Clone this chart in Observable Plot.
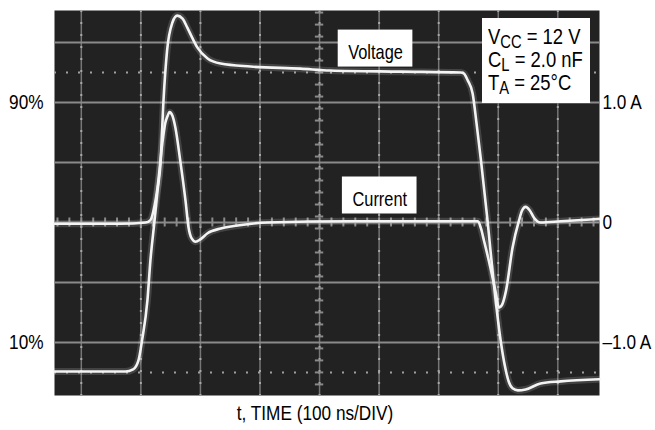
<!DOCTYPE html>
<html><head><meta charset="utf-8">
<script src="https://cdn.jsdelivr.net/npm/d3@7"></script>
<script src="https://cdn.jsdelivr.net/npm/@observablehq/plot@0.6"></script>
<style>body{margin:0;background:#fff}</style>
</head><body><div id="chart"></div>
<script>
// Voltage trace: time (ns) and level (% of swing)
const voltT = [-45, 32, 74, 87, 96, 102, 111, 116, 123, 128, 133, 138, 144, 153, 161, 170, 178, 187, 195, 212, 234, 284, 368, 418, 536, 637, 642, 649, 657, 664, 671, 682, 692, 704, 711, 718, 724, 733, 746, 771, 805, 870];
const voltV = [0.3, 0.3, 0.3, 1.0, 4.0, 10.7, 24, 37.3, 50.7, 60.7, 69.7, 90.7, 107.3, 116.7, 119, 118, 115, 111.3, 108.3, 104.7, 103, 102, 101.3, 100.7, 100.3, 100, 99.7, 97.3, 93, 82.3, 70.7, 50.7, 30.7, 10.7, 2.3, -3.3, -5.3, -6, -5.7, -3.7, -3, -2.3];
// Current trace: time (ns) and current (A)
const curT = [-45, 66, 108, 116, 123, 128, 136, 141, 145, 148, 153, 158, 166, 175, 180, 185, 192, 200, 212, 234, 256, 313, 452, 654, 666, 671, 676, 687, 696, 701, 706, 713, 724, 735, 740, 746, 753, 760, 771, 805, 870];
const curA = [-0.01, -0.01, 0, 0.02, 0.14, 0.29, 0.66, 0.83, 0.89, 0.92, 0.89, 0.79, 0.52, 0.18, -0.04, -0.13, -0.16, -0.14, -0.09, -0.05, -0.03, 0, 0.01, 0.01, 0.01, -0.05, -0.15, -0.38, -0.59, -0.71, -0.69, -0.57, -0.21, 0.02, 0.10, 0.13, 0.10, 0.04, 0, 0.01, 0.03];

// Graticule (100 ns / div, 20 % / div)
const timeGrid = [0, 100, 200, 300, 400, 500, 600, 700, 800];
const levelGrid = [10, 30, 50, 70, 90, 110];
const refLevels = [0, 100];

// Axis tick labels
const leftTicks = [10, 90];
const leftLabels = ["10%", "90%"];
const rightAmps = [-1, 0, 1];
const rightLabels = ["\u20131.0 A", "0", "1.0 A"];

// Trace labels
const traceLabels = [
  {label: "Voltage", t: 494, v: 106.8},
  {label: "Current", t: 501, v: 57.8}
];
const conditions = [
  ["V", "CC", " = 12 V"],
  ["C", "L", " = 2.0 nF"],
  ["T", "A", " = 25\u00B0C"]
];
const xLabel = "t, TIME (100 ns/DIV)";

// current axis shares the vertical graticule: 0 A at centre, 1 A per 2 div
const ampToPct = a => 50 + 40 * a;

const voltage = voltT.map((t, i) => ({t, v: voltV[i]}));
const current = curT.map((t, i) => ({t, v: ampToPct(curA[i])}));
const leftMap = new Map(leftTicks.map((d, i) => [d, leftLabels[i]]));
const rightMap = new Map(rightAmps.map((a, i) => [ampToPct(a), rightLabels[i]]));
const minorLevels = d3.range(-4, 121, 4);
const minorTimes = d3.range(-40, 871, 20);

const FONT = "'Liberation Sans', Arial, sans-serif";
const NARROW = 0.82; // condensed face in the reference
const gridCol = "#8a8a8a";

const chart = Plot.plot({
  width: 655, height: 430,
  marginLeft: 54, marginRight: 56, marginTop: 10, marginBottom: 35,
  style: {fontFamily: FONT, background: "#fff", color: "#000"},
  x: {domain: [-45, 870], axis: null},
  y: {domain: [-7.7, 120.7]},
  marks: [
    Plot.frame({fill: "#222222", stroke: null}),
    Plot.ruleX(timeGrid, {stroke: "#767676", strokeWidth: 1.5}),
    Plot.ruleX(timeGrid, {stroke: "#a8a8a8", strokeWidth: 2, strokeDasharray: "2,10"}),
    Plot.ruleY(levelGrid, {stroke: gridCol, strokeWidth: 2}),
    Plot.ruleY(refLevels, {stroke: "#a0a0a0", strokeWidth: 2, strokeDasharray: "2,10"}),
    Plot.ruleY(minorLevels, {y: d => d, x1: 393, x2: 407, stroke: gridCol, strokeWidth: 2}),
    Plot.ruleX(minorTimes, {x: d => d, y1: 48.5, y2: 51.5, stroke: gridCol, strokeWidth: 2}),
    Plot.line(voltage, {x: "t", y: "v", curve: "monotone-x", stroke: "#fff", strokeWidth: 7, strokeOpacity: 0.15}),
    Plot.line(current, {x: "t", y: "v", curve: "monotone-x", stroke: "#fff", strokeWidth: 7, strokeOpacity: 0.15}),
    Plot.line(voltage, {x: "t", y: "v", curve: "monotone-x", stroke: "#f4f4f4", strokeWidth: 2.6}),
    Plot.line(current, {x: "t", y: "v", curve: "monotone-x", stroke: "#f4f4f4", strokeWidth: 2.6}),
    Plot.text(traceLabels, {x: "t", y: "v", text: "label", fontSize: 20, fill: "#000"}),
    Plot.axisY({anchor: "left", ticks: leftTicks, tickFormat: d => leftMap.get(d), tickSize: 0, tickPadding: 11, fontSize: 21, label: null}),
    Plot.axisY({anchor: "right", ticks: [...rightMap.keys()], tickFormat: d => rightMap.get(d), tickSize: 0, tickPadding: 3, fontSize: 21, label: null, textAnchor: "start"}),
    Plot.text([xLabel], {frameAnchor: "bottom", dx: -12, dy: 24, fontSize: 21, fill: "#000"})
  ]
});
document.getElementById("chart").append(chart);
const svgSel = d3.select(chart);
const xs = chart.scale("x"), ys = chart.scale("y");

// conditions box, top-right of the screen
const frameRight = Math.max(...xs.range), frameTop = Math.min(...ys.range);
const bx = frameRight - 117, by = frameTop + 8;
const cg = svgSel.append("g").attr("font-family", FONT).attr("text-anchor", "start");
cg.append("rect").attr("x", bx).attr("y", by).attr("width", 108).attr("height", 85).attr("fill", "#fff");
conditions.forEach((c, i) => {
  const t = cg.append("text").attr("x", bx + 6).attr("y", by + 26 + i * 23).attr("font-size", 22.5).attr("fill", "#000");
  t.append("tspan").text(c[0]);
  t.append("tspan").attr("font-size", 18).attr("dy", 4).text(c[1]);
  t.append("tspan").attr("dy", -4).text(c[2]);
});

// condense every text about its anchor to match the narrow typeface
svgSel.selectAll("text").each(function() {
  const b = this.getBBox();
  if (!b.width) return;
  const anchor = getComputedStyle(this).textAnchor;
  const ax = anchor === "end" ? b.x + b.width : anchor === "middle" ? b.x + b.width / 2 : b.x;
  const prev = this.getAttribute("transform") || "";
  this.setAttribute("transform", `${prev} translate(${ax},0) scale(${NARROW},1) translate(${-ax},0)`.trim());
});

// white boxes behind trace labels
svgSel.selectAll("text").filter(function() {
  return traceLabels.some(l => l.label === this.textContent);
}).each(function() {
  const d = traceLabels.find(l => l.label === this.textContent);
  const w = this.getBBox().width * NARROW;
  const cx = xs.apply(d.t), base = ys.apply(d.v) + 0.32 * 20;
  const host = this.closest("g") || this.parentNode;
  const r = document.createElementNS("http://www.w3.org/2000/svg", "rect");
  r.setAttribute("x", cx - w / 2 - 10);
  r.setAttribute("y", base - 28.5);
  r.setAttribute("width", w + 20);
  r.setAttribute("height", 37);
  r.setAttribute("fill", "#fff");
  host.parentNode.insertBefore(r, host);
});
</script></body></html>
